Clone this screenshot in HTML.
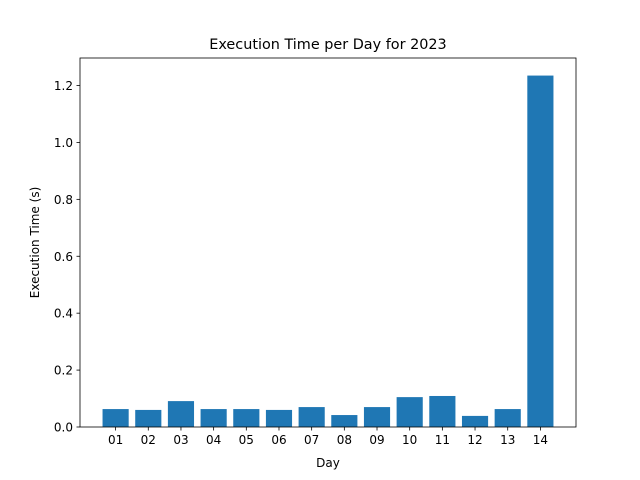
<!DOCTYPE html>
<html><head><meta charset="utf-8"><style>
body{margin:0;background:#fff;}
svg{display:block;font-family:"DejaVu Sans","Liberation Sans",sans-serif;}
</style></head><body>
<svg id="chart" width="640" height="480">
<rect width="640" height="480" fill="#fff"/>
<text x="328" y="49" text-anchor="middle" font-size="14.4">Execution Time per Day for 2023</text>
<g id="bars"></g>
<g id="axes"></g>
<text x="328" y="467" text-anchor="middle" font-size="12">Day</text>
<text transform="translate(39,242.5) rotate(-90)" text-anchor="middle" font-size="12">Execution Time (s)</text>
</svg>
<script>
const categories = ["01","02","03","04","05","06","07","08","09","10","11","12","13","14"];
const values = [0.063,0.060,0.091,0.063,0.063,0.060,0.070,0.042,0.070,0.105,0.109,0.039,0.063,1.235];
const yTicks = [0.0,0.2,0.4,0.6,0.8,1.0,1.2];

const L=80,R=576,T=58,B=427;
const n=categories.length;
const xmin=-0.4-0.05*(n-1+0.8), xmax=n-1+0.4+0.05*(n-1+0.8);
const ymax=Math.max(...values)*1.05;
const xs=v=>L+(v-xmin)/(xmax-xmin)*(R-L);
const ys=v=>B-v/ymax*(B-T);
const NS="http://www.w3.org/2000/svg";
const bars=document.getElementById('bars'), axes=document.getElementById('axes');
function mk(tag,attrs,parent){const e=document.createElementNS(NS,tag);for(const k in attrs)e.setAttribute(k,attrs[k]);parent.appendChild(e);return e;}
values.forEach((v,i)=>{
  const r=mk('rect',{x:xs(i-0.4),y:ys(v),width:xs(i+0.4)-xs(i-0.4),height:B-ys(v),fill:'#1f77b4'},bars);
  
  
  mk('line',{x1:xs(i),x2:xs(i),y1:B,y2:B+3.5,stroke:'#000','stroke-width':0.8},axes);
  const t=mk('text',{x:xs(i),y:B+17,'text-anchor':'middle','font-size':12},axes);
  t.textContent=categories[i];
  
  
});
yTicks.forEach(v=>{
  mk('line',{x1:L-3.5,x2:L,y1:ys(v),y2:ys(v),stroke:'#000','stroke-width':0.8},axes);
  const t=mk('text',{x:L-7,y:ys(v)+4.5,'text-anchor':'end','font-size':12},axes);
  t.textContent=v.toFixed(1);
  
  
});
const f=mk('rect',{x:L,y:T,width:R-L,height:B-T,fill:'none',stroke:'#000','stroke-width':0.8},axes);


</script>
</body></html>
